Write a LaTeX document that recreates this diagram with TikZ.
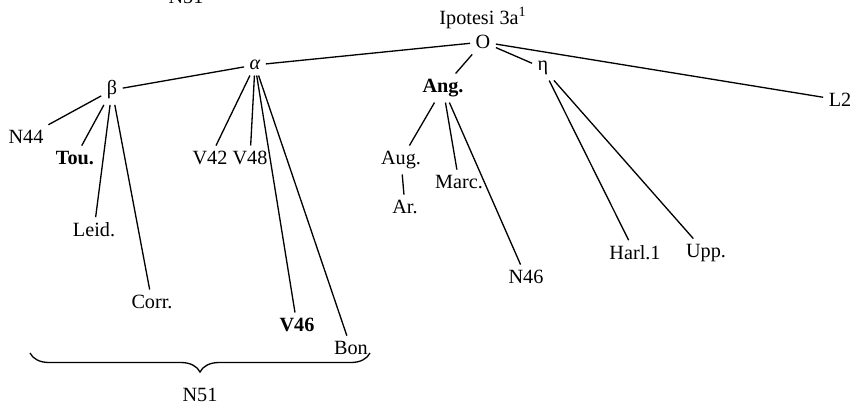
\documentclass[tikz,border=0pt]{standalone}
\usepackage{fontspec}
\setmainfont{Liberation Serif}
\usepackage{tikz}
\usetikzlibrary{decorations.pathreplacing}

\begin{document}
\begin{tikzpicture}[
		font=\fontsize{11.5}{13}\selectfont,
		every node/.style={inner sep=3pt},
		ramo/.style={line width=0.75pt},
		graffa/.style={line width=0.75pt, decorate, decoration={brace, mirror, amplitude=0.38cm}}
	]
			
			\useasboundingbox (0,0) rectangle (17.2,8.16);
			
			% Titolo
			\node (T) at (9.66,7.80) {Ipotesi 3a\textsuperscript{1}};
			\node (N51a) at (3.72,8.22) {N51};
			
			% Nodi principali
			\node (O) at (9.66,7.32) {O};
			\node (alfa) at (5.10,6.86) {\itshape α};
			\node (beta) at (2.24,6.36) {β};
			\node (Ang) at (8.86,6.40) {\textbf{Ang.}};
			\node (eta) at (10.86,6.80) {η};
			\node (L2) at (16.80,6.16) {L2};
			
			% Testimoni
			\node (N44) at (0.52,5.42) {N44};
			\node (Tou) at (1.50,5.00) {\textbf{Tou.}};
			\node (Leid) at (1.88,3.56) {Leid.};
			\node (Corr) at (3.04,2.12) {Corr.};
			\node (V42) at (4.20,5.00) {V42};
			\node (V48) at (5.00,5.00) {V48};
			\node (V46) at (5.94,1.66) {\textbf{V46}};
			\node (Bon) at (7.02,1.20) {Bon};
			\node (Aug) at (8.02,4.96) {Aug.};
			\node (Ar) at (8.10,4.02) {Ar.};
			\node (Marc) at (9.18,4.52) {Marc.};
			\node (N46) at (10.52,2.62) {N46};
			\node (Harl) at (12.70,3.10) {Harl.1};
			\node (Upp) at (14.12,3.10) {Upp.};
			
			% Rami
			\draw[ramo] (O) -- (alfa);
			\draw[ramo] (O) -- (Ang);
			\draw[ramo] (O) -- (eta);
			\draw[ramo] (O) -- (L2);
			\draw[ramo] (alfa) -- (beta);
			\draw[ramo] (alfa) -- (V42);
			\draw[ramo] (alfa) -- (V48);
			\draw[ramo] (alfa) -- (V46);
			\draw[ramo] (alfa) -- (Bon);
			\draw[ramo] (beta) -- (N44);
			\draw[ramo] (beta) -- (Tou);
			\draw[ramo] (beta) -- (Leid);
			\draw[ramo] (beta) -- (Corr);
			\draw[ramo] (Ang) -- (Aug);
			\draw[ramo] (Ang) -- (Marc);
			\draw[ramo] (Ang) -- (N46);
			\draw[ramo] (Aug) -- (Ar);
			\draw[ramo] (eta) -- (Harl);
			\draw[ramo] (eta) -- (Upp);
			
			% Graffa
			\coordinate (g1) at (0.60,1.10);
			\coordinate (g2) at (7.40,1.10);
			\draw[graffa] (g1) -- (g2);
			\node (N51) at (4.00,0.26) {N51};
			
		\end{tikzpicture}
\end{document}
